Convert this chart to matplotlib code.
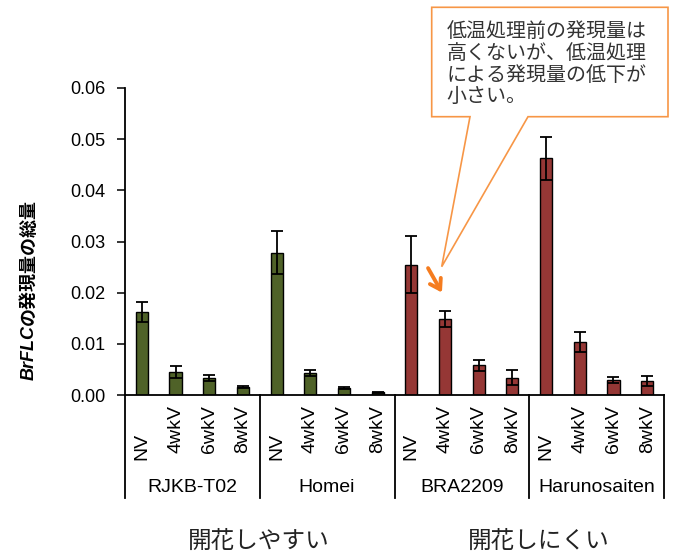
import numpy as np
import matplotlib.pyplot as plt
from matplotlib.patches import Polygon
from matplotlib.transforms import blended_transform_factory

plt.rcParams['font.family'] = ['Liberation Sans', 'Noto Sans CJK JP']

# BrFLC total expression per variety and vernalization period
varieties = ['RJKB-T02', 'Homei', 'BRA2209', 'Harunosaiten']
treatments = ['NV', '4wkV', '6wkV', '8wkV']
rjkb = [0.0162, 0.0045, 0.0033, 0.0015]
rjkb_err = [0.0020, 0.0011, 0.0006, 0.0002]
homei = [0.0278, 0.0043, 0.0013, 0.0005]
homei_err = [0.0042, 0.0005, 0.0002, 0.0001]
bra = [0.0255, 0.0148, 0.0058, 0.0034]
bra_err = [0.0055, 0.0016, 0.0011, 0.0014]
haruno = [0.0463, 0.0104, 0.0029, 0.0028]
haruno_err = [0.0042, 0.0020, 0.0006, 0.0010]
bar_colors = ['#4f6228', '#4f6228', '#953735', '#953735']
groups = ['開花しやすい', '開花しにくい']
note = ['低温処理前の発現量は', '高くないが、低温処理', 'による発現量の低下が', '小さい。']

W, H = 681, 556
fig = plt.figure(figsize=(W / 100, H / 100), dpi=100)
ax = fig.add_axes([125 / W, (H - 395) / H, 539 / W, 307 / H])

values = [rjkb, homei, bra, haruno]
errors = [rjkb_err, homei_err, bra_err, haruno_err]
n = len(treatments)
for g, (vals, errs) in enumerate(zip(values, errors)):
    x = np.arange(n) + g * n
    ax.bar(x, vals, width=0.36, color=bar_colors[g], edgecolor='black',
           linewidth=1.0, yerr=errs, capsize=4.3,
           error_kw=dict(elinewidth=1.3, capthick=1.3, ecolor='black'),
           zorder=2)

ax.set_xlim(-0.5, len(varieties) * n - 0.5)
ax.set_ylim(0, 0.06)
ax.set_yticks(np.arange(0, 0.061, 0.01))
ax.set_yticklabels(['%.2f' % v for v in np.arange(0, 0.061, 0.01)], fontsize=13)
ax.set_xticks([])
ax.tick_params(axis='y', direction='out', length=6, width=1.1, pad=8)
for s in ['top', 'right']:
    ax.spines[s].set_visible(False)
ax.spines['left'].set_linewidth(1.3)
ax.spines['bottom'].set_linewidth(1.3)

# table-like category area under the axis
tr = blended_transform_factory(ax.transData, ax.transAxes)
ybot = -103 / 307
for g in range(len(varieties) + 1):
    xd = g * n - 0.5
    ax.plot([xd, xd], [0, ybot], color='black', lw=1.3, transform=tr,
            clip_on=False)
for g, name in enumerate(varieties):
    for i, lab in enumerate(treatments):
        xd = g * n + i
        if lab == 'NV':
            ax.text(xd, -65 / 307, lab, rotation=90, ha='center', va='bottom',
                    fontsize=14, transform=tr)
        else:
            ax.text(xd, -10 / 307, lab, rotation=90, ha='center', va='top',
                    fontsize=14, transform=tr)
    ax.text(g * n + (n - 1) / 2, -92 / 307, name, ha='center', va='center',
            fontsize=14, transform=tr)

# y label: italic gene name followed by Japanese text
t1 = fig.text(29 / W, (H - 380) / H, 'BrFLC', rotation=90, ha='center',
              va='bottom', fontsize=13, fontweight='bold', style='italic')
ax.annotate('の発現量の総量', xy=(0.5, 1.0), xycoords=t1, rotation=90,
            ha='center', va='bottom', fontsize=13, fontweight='bold',
            annotation_clip=False)

# overlay in pixel units for callout and bottom captions
ov = fig.add_axes([0, 0, 1, 1], zorder=5)
ov.set_xlim(0, W)
ov.set_ylim(H, 0)
ov.axis('off')
ov.patch.set_alpha(0)

orange = '#f79646'
callout = Polygon([(431.7, 7.3), (668, 7.3), (668, 116.7), (528, 116.7),
                   (441.7, 266.7), (470, 116.7), (431.7, 116.7)],
                  closed=True, facecolor='white', edgecolor=orange, lw=1.2)
ov.add_patch(callout)
for k, line in enumerate(note):
    ov.text(446.7, 31.7 + 21.7 * k, line, ha='left', va='center',
            fontsize=14.4, color='#333333')

ov.annotate('', xy=(443.3, 295), xytext=(426.7, 265.7),
            arrowprops=dict(arrowstyle='->,head_length=0.7,head_width=0.45',
                            color='#f57c1f', lw=2.8))

ov.text(259, 542, groups[0], ha='center', va='center', fontsize=17,
        color='#222222')
ov.text(539, 542, groups[1], ha='center', va='center', fontsize=17,
        color='#222222')

fig.savefig('out.png', dpi=100)
